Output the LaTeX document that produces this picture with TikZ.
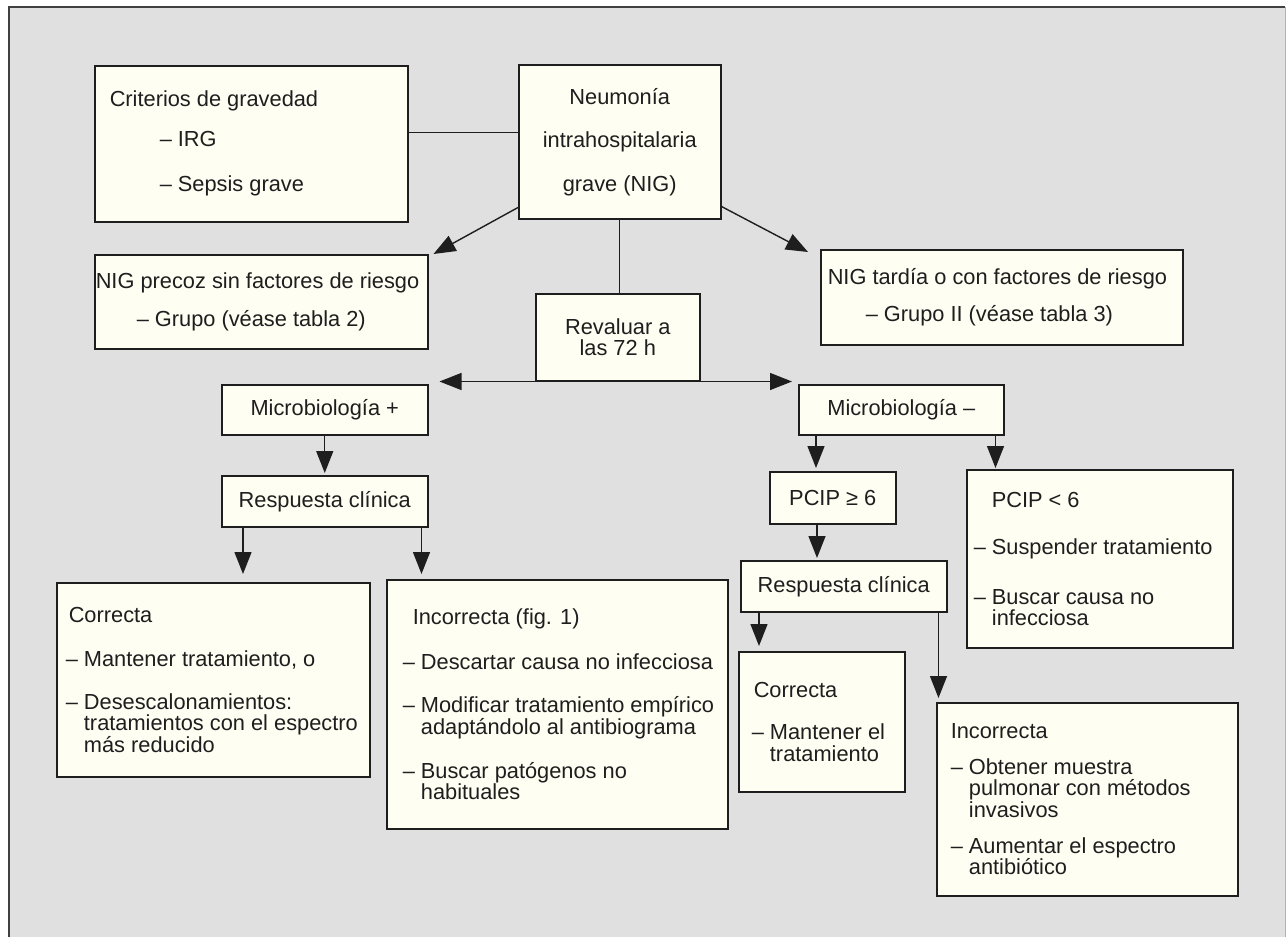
\documentclass[tikz,border=0pt]{standalone}
\usepackage{fontspec}
\setmainfont{Liberation Sans}
\usetikzlibrary{arrows.meta}

\definecolor{bggray}{HTML}{E0E0E0}
\definecolor{boxfill}{HTML}{FEFEF3}
\definecolor{ink}{HTML}{1E1E1E}
\definecolor{framecol}{HTML}{404040}

\newcommand{\ind}{\hphantom{– }}

\tikzset{
  box/.style={draw=ink, fill=boxfill, line width=1.5pt, anchor=north west,
    inner ysep=0pt, text=ink, font=\fontsize{21.8pt}{21.5pt}\selectfont,
    execute at begin node={\spaceskip=0pt\xspaceskip=0pt\hyphenpenalty=10000}},
  lbox/.style={box, align=left},
  cbox/.style={box, align=center},
  con/.style={draw=ink, line width=1.4pt},
  arr/.style={con, -{Triangle[length=22pt,width=17pt]}}
}

\begin{document}
\begin{tikzpicture}[x=1pt, y=-1pt]
\useasboundingbox (0,0) rectangle (1286,937);

% draw grey frame
\fill[bggray] (9,7) rectangle (1286,937);
\draw[framecol, line width=2.5pt] (9,937) -- (9,7) -- (1285,7);
\draw[gray!60, line width=1pt] (1285,7) -- (1285,937);

% draw top boxes
\node[lbox, inner xsep=15pt, text width=283pt, minimum height=156pt] (crit) at (94,65)
  {Criterios de gravedad\\[18pt]\hspace*{50pt}– IRG\\[24pt]\hspace*{50pt}– Sepsis grave};
\node[cbox, minimum width=202pt, minimum height=154pt] (neu) at (518,64)
  {Neumonía\\[22pt]intrahospitalaria\\[22pt]grave (NIG)};
\node[lbox, inner xsep=1pt, text width=331pt, minimum height=94pt] (pre) at (94,254)
  {NIG precoz sin factores de riesgo\\[16.5pt]\hspace*{41pt}– Grupo (véase tabla 2)};
\node[lbox, inner xsep=7pt, text width=348pt, minimum height=95pt] (tar) at (820,249)
  {NIG tardía o con factores de riesgo\\[15.5pt]\hspace*{38pt}– Grupo II (véase tabla 3)};
\node[cbox, minimum width=164pt, minimum height=87pt] (rev) at (535,293) {Revaluar a\\las 72 h};

% draw middle boxes
\node[cbox, minimum width=206pt, minimum height=50pt] (mp) at (221,384) {Microbiología +};
\node[cbox, minimum width=205pt, minimum height=50pt] (mm) at (798,384) {Microbiología –};
\node[cbox, minimum width=206pt, minimum height=51pt] (rp) at (221,475) {Respuesta clínica};
\node[cbox, minimum width=126pt, minimum height=52pt] (pge) at (769,471) {PCIP ≥ 6};
\node[lbox, inner xsep=7pt, text width=252pt, minimum height=178pt] (plt) at (966,469)
  {\hspace*{18pt}PCIP < 6\\[25.5pt]– Suspender tratamiento\\[28.5pt]– Buscar causa no\\\ind infecciosa};
\node[cbox, minimum width=206pt, minimum height=51pt] (rr) at (740,560) {Respuesta clínica};

% draw bottom boxes
\node[lbox, inner xsep=9pt, text width=295pt, minimum height=194pt] (corl) at (56,582)
  {\hspace*{3pt}Correcta\\[22.5pt]– Mantener tratamiento, o\\[21.5pt]– Desescalonamientos:\\\ind tratamientos con el espectro\\\ind más reducido};
\node[lbox, inner xsep=12pt, text width=317pt, minimum height=249pt] (incl) at (386,579)
  {\hspace*{14pt}Incorrecta (fig. 1)\\[23.5pt]\hspace*{4pt}– Descartar causa no infecciosa\\[21.5pt]\hspace*{4pt}– Modificar tratamiento empírico\\\hspace*{4pt}\ind adaptándolo al antibiograma\\[22.5pt]\hspace*{4pt}– Buscar patógenos no\\\hspace*{4pt}\ind habituales};
\node[lbox, inner xsep=13pt, text width=140pt, minimum height=140pt] (corr) at (738,651)
  {\hspace*{2pt}Correcta\\[20.5pt]– Mantener el\\\ind tratamiento};
\node[lbox, inner xsep=14pt, text width=273pt, minimum height=193pt] (incr) at (936,702)
  {Incorrecta\\[14.5pt]– Obtener muestra\\\ind pulmonar con métodos\\\ind invasivos\\[14.5pt]– Aumentar el espectro\\\ind antibiótico};

% draw plain lines
\coordinate (c1) at ([yshift=11pt]crit.east);
\draw[con] (c1) -- (c1 -| neu.west);
\draw[con] (neu.south) -- (neu.south |- rev.north);

% draw diagonal arrows
\draw[arr] ([yshift=12pt]neu.south west) -- ([xshift=5pt]pre.north east);
\draw[arr] ([yshift=13pt]neu.south east) -- ([xshift=-12pt,yshift=-3pt]tar.north west);

% draw horizontal arrows under Revaluar
\path (mp.east |- rev.south) ++(11,0) coordinate (hl);
\path (mm.west |- rev.south) ++(-6,0) coordinate (hr);
\draw[arr] (rev.south west) -- (hl);
\draw[arr] (rev.south east) -- (hr);

% draw vertical arrows
\draw[arr, shorten >=2pt] (mp.south) -- (rp.north);
\path (rp.south west) ++(22,0) coordinate (r1);
\path (rp.south east) ++(-7,0) coordinate (r2);
\draw[arr, shorten >=8pt] (r1) -- (r1 |- corl.north);
\draw[arr, shorten >=5pt] (r2) -- (r2 |- incl.north);
\path (mm.south west) ++(18,0) coordinate (m1);
\path (mm.south east) ++(-9,0) coordinate (m2);
\draw[arr, shorten >=3pt] (m1) -- (m1 |- pge.north);
\draw[arr, shorten >=1pt] (m2) -- (m2 |- plt.north);
\path (pge.south west) ++(48,0) coordinate (p1);
\draw[arr, shorten >=2pt] (p1) -- (p1 |- rr.north);
\path (rr.south west) ++(19,0) coordinate (q1);
\path (rr.south east) ++(-9,0) coordinate (q2);
\draw[arr, shorten >=5pt] (q1) -- (q1 |- corr.north);
\draw[arr, shorten >=4pt] (q2) -- (q2 |- incr.north);

\end{tikzpicture}
\end{document}
